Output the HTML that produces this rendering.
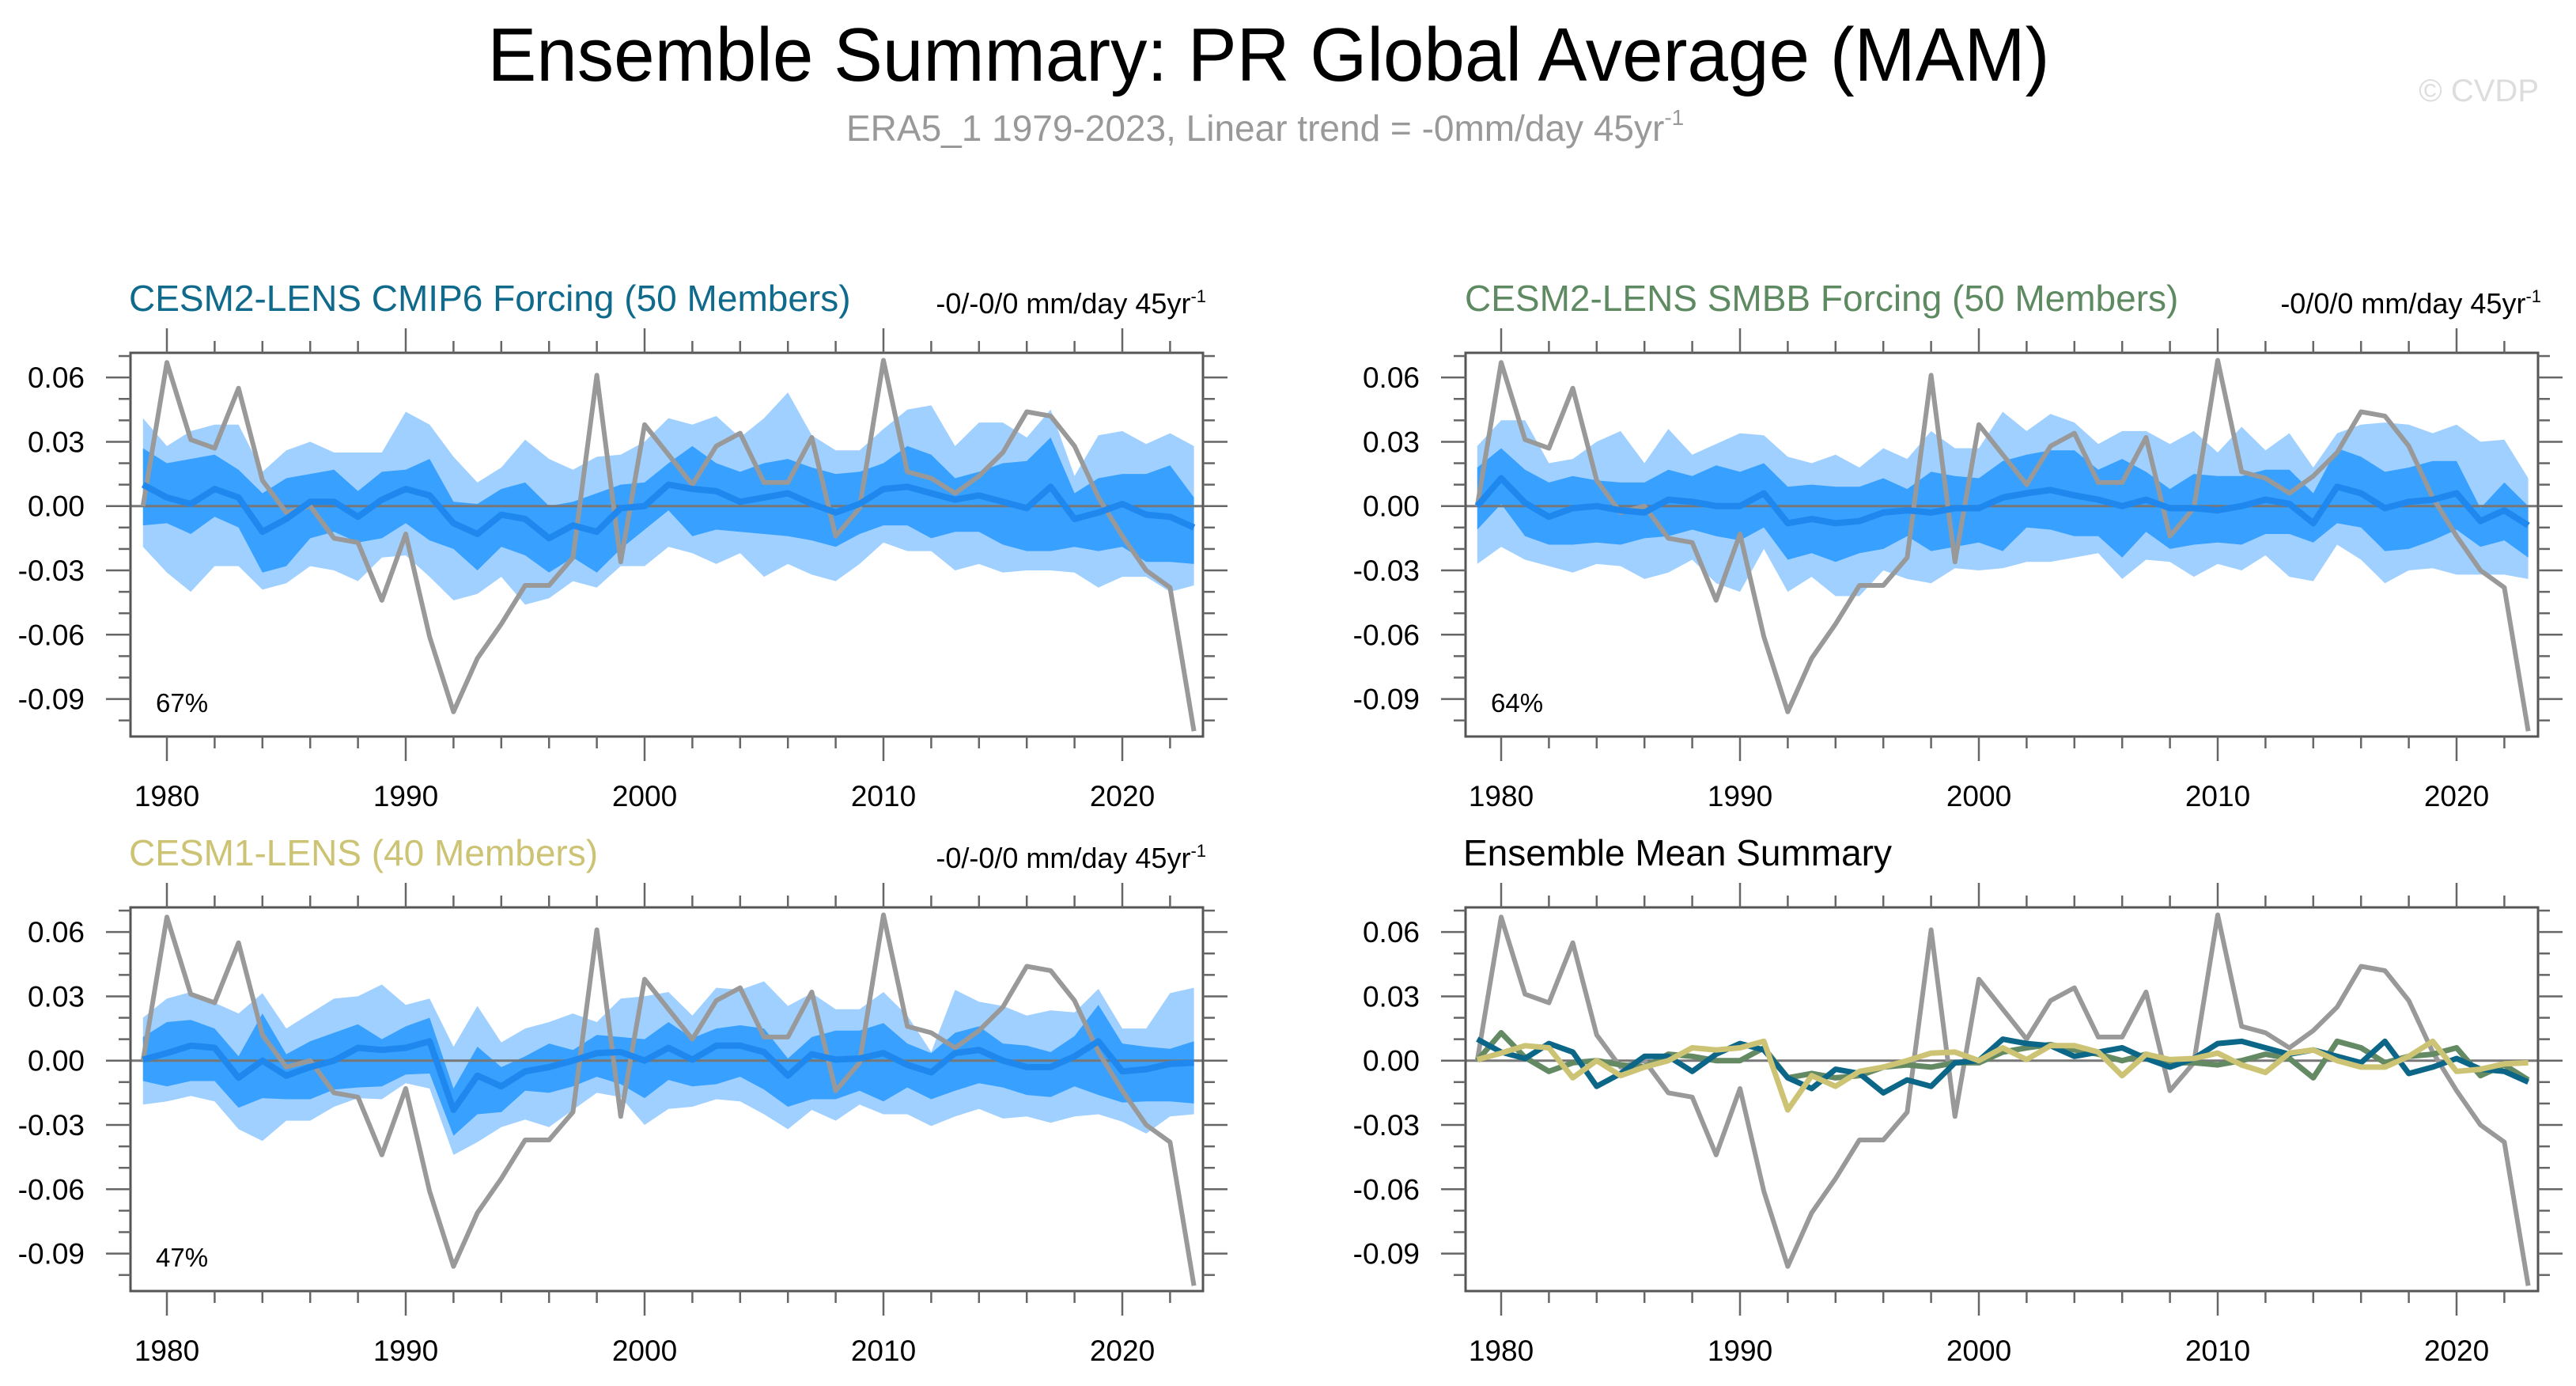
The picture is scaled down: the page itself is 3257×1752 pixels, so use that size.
<!DOCTYPE html>
<html><head><meta charset="utf-8">
<style>
html,body{margin:0;padding:0;background:#fff;}
svg{display:block;font-family:"Liberation Sans",Arial,sans-serif;}
</style></head>
<body>
<svg id="fig" width="3257" height="1752" viewBox="0 0 3257 1752" xmlns="http://www.w3.org/2000/svg">
<text x="1604" y="102" font-size="96" text-anchor="middle" textLength="1975" lengthAdjust="spacingAndGlyphs" fill="#000">Ensemble Summary: PR Global Average (MAM)</text>
<text x="1070" y="178" font-size="46" fill="#999">ERA5_1 1979-2023, Linear trend = -0mm/day 45yr<tspan dy="-20" font-size="28">-1</tspan></text>
<text x="3210" y="128" font-size="40" text-anchor="end" fill="#ddd">© CVDP</text>
</svg>
<script>
const years = [];
for (let y = 1979; y <= 2023; y++) years.push(y);
const era5 = [0,0.067,0.031,0.027,0.055,0.012,-0.003,0,-0.015,-0.017,-0.044,-0.013,-0.061,-0.096,-0.071,-0.055,-0.037,-0.037,-0.024,0.061,-0.026,0.038,0.024,0.010,0.028,0.034,0.011,0.011,0.032,-0.014,-0.001,0.068,0.016,0.013,0.006,0.014,0.025,0.044,0.042,0.028,0.004,-0.014,-0.030,-0.038,-0.105];
const cmip6Mean = [0.010,0.004,0.001,0.008,0.004,-0.012,-0.006,0.002,0.002,-0.005,0.003,0.008,0.005,-0.008,-0.013,-0.004,-0.006,-0.015,-0.009,-0.012,-0.001,0,0.010,0.008,0.007,0.002,0.004,0.006,0.001,-0.003,0.001,0.008,0.009,0.006,0.003,0.005,0.002,-0.001,0.009,-0.006,-0.003,0.001,-0.004,-0.005,-0.010];
const cmip6DarkHi = [0.027,0.020,0.022,0.024,0.017,0.006,0.013,0.015,0.017,0.007,0.016,0.017,0.022,0.002,0.001,0.008,0.011,0.0,0.002,0.006,0.010,0.011,0.020,0.028,0.020,0.016,0.020,0.022,0.018,0.015,0.016,0.020,0.028,0.024,0.013,0.016,0.020,0.021,0.032,0.006,0.013,0.015,0.015,0.019,0.004];
const cmip6DarkLo = [-0.009,-0.008,-0.013,-0.005,-0.010,-0.031,-0.028,-0.015,-0.012,-0.017,-0.015,-0.008,-0.016,-0.020,-0.030,-0.019,-0.023,-0.031,-0.024,-0.031,-0.020,-0.011,-0.002,-0.014,-0.011,-0.012,-0.013,-0.014,-0.016,-0.019,-0.013,-0.009,-0.009,-0.015,-0.012,-0.012,-0.018,-0.021,-0.021,-0.019,-0.021,-0.019,-0.026,-0.026,-0.027];
const cmip6LightHi = [0.041,0.028,0.035,0.038,0.038,0.016,0.026,0.030,0.025,0.025,0.025,0.044,0.038,0.023,0.011,0.018,0.031,0.022,0.017,0.023,0.024,0.030,0.041,0.038,0.042,0.032,0.041,0.053,0.033,0.026,0.026,0.036,0.045,0.047,0.028,0.039,0.039,0.032,0.045,0.014,0.033,0.035,0.029,0.034,0.028];
const cmip6LightLo = [-0.019,-0.031,-0.040,-0.028,-0.028,-0.039,-0.036,-0.028,-0.030,-0.035,-0.024,-0.023,-0.033,-0.044,-0.041,-0.033,-0.046,-0.043,-0.035,-0.038,-0.028,-0.028,-0.019,-0.022,-0.027,-0.022,-0.033,-0.027,-0.032,-0.035,-0.027,-0.017,-0.021,-0.021,-0.030,-0.027,-0.031,-0.030,-0.030,-0.031,-0.038,-0.033,-0.033,-0.040,-0.037];
const smbbMean = [0,0.013,0.0015,-0.005,-0.001,0,-0.002,-0.003,0.003,0.002,0,0,0.006,-0.008,-0.006,-0.008,-0.007,-0.003,-0.002,-0.003,-0.001,-0.001,0.004,0.006,0.0075,0.005,0.003,0,0.003,-0.001,-0.001,-0.002,0,0.003,0.001,-0.008,0.009,0.006,-0.001,0.002,0.003,0.006,-0.007,-0.002,-0.009];
const smbbDarkHi = [0.018,0.027,0.017,0.011,0.014,0.012,0.011,0.011,0.017,0.014,0.019,0.016,0.020,0.009,0.010,0.009,0.009,0.013,0.008,0.016,0.014,0.013,0.021,0.024,0.026,0.026,0.017,0.022,0.016,0.008,0.015,0.014,0.014,0.017,0.017,0.006,0.027,0.023,0.016,0.018,0.021,0.021,-0.001,0.011,0.0];
const smbbDarkLo = [-0.011,0.001,-0.014,-0.018,-0.018,-0.017,-0.018,-0.015,-0.014,-0.011,-0.014,-0.016,-0.010,-0.025,-0.022,-0.026,-0.022,-0.020,-0.014,-0.021,-0.019,-0.017,-0.021,-0.010,-0.011,-0.014,-0.014,-0.024,-0.012,-0.020,-0.018,-0.017,-0.018,-0.013,-0.013,-0.017,-0.008,-0.010,-0.021,-0.020,-0.016,-0.011,-0.019,-0.016,-0.024];
const smbbLightHi = [0.028,0.040,0.040,0.020,0.022,0.030,0.035,0.020,0.036,0.024,0.029,0.034,0.033,0.023,0.020,0.024,0.018,0.027,0.022,0.035,0.027,0.027,0.044,0.035,0.043,0.039,0.029,0.035,0.035,0.029,0.035,0.025,0.037,0.026,0.034,0.018,0.034,0.038,0.039,0.038,0.034,0.038,0.030,0.031,0.013];
const smbbLightLo = [-0.027,-0.019,-0.025,-0.028,-0.031,-0.027,-0.028,-0.034,-0.031,-0.025,-0.036,-0.040,-0.020,-0.040,-0.033,-0.042,-0.042,-0.030,-0.034,-0.036,-0.029,-0.030,-0.029,-0.026,-0.026,-0.024,-0.022,-0.034,-0.025,-0.026,-0.033,-0.027,-0.030,-0.023,-0.033,-0.035,-0.018,-0.025,-0.036,-0.030,-0.029,-0.032,-0.032,-0.032,-0.034];
const cesm1Mean = [0.0005,0.0035,0.007,0.006,-0.008,0,-0.007,-0.003,0,0.006,0.005,0.006,0.009,-0.023,-0.007,-0.012,-0.005,-0.003,0,0.0035,0.004,0,0.006,0.0005,0.007,0.007,0.004,-0.007,0.003,0.0005,0.001,0.0035,-0.002,-0.0055,0.0035,0.005,0,-0.003,-0.003,0.002,0.009,-0.005,-0.004,-0.0015,-0.001];
const cesm1DarkHi = [0.011,0.018,0.019,0.015,0.002,0.022,0.003,0.009,0.013,0.017,0.010,0.016,0.020,-0.013,0.0065,-0.003,0.002,0.008,0.005,0.012,0.011,0.010,0.018,0.0105,0.015,0.0165,0.015,0.001,0.011,0.014,0.014,0.0175,0.008,0.0035,0.013,0.016,0.008,0.007,0.004,0.0115,0.026,0.008,0.0065,0.0055,0.009];
const cesm1DarkLo = [-0.0095,-0.012,-0.0095,-0.0095,-0.022,-0.0175,-0.018,-0.018,-0.0135,-0.0125,-0.012,-0.0065,-0.006,-0.035,-0.025,-0.024,-0.014,-0.015,-0.012,-0.0075,-0.011,-0.0175,-0.009,-0.012,-0.011,-0.0075,-0.0135,-0.0215,-0.018,-0.018,-0.014,-0.019,-0.0125,-0.018,-0.014,-0.0105,-0.0125,-0.016,-0.017,-0.012,-0.016,-0.0195,-0.019,-0.019,-0.020];
const cesm1LightHi = [0.020,0.029,0.032,0.027,0.022,0.0315,0.015,0.022,0.029,0.030,0.0355,0.026,0.029,0.0065,0.0255,0.0085,0.015,0.018,0.022,0.018,0.029,0.030,0.032,0.021,0.034,0.033,0.037,0.0255,0.0315,0.024,0.024,0.032,0.021,0.004,0.033,0.0275,0.0255,0.021,0.0235,0.0225,0.0335,0.015,0.015,0.0315,0.034];
const cesm1LightLo = [-0.0205,-0.019,-0.0165,-0.019,-0.032,-0.0375,-0.028,-0.028,-0.0215,-0.0175,-0.018,-0.0105,-0.013,-0.044,-0.038,-0.031,-0.0275,-0.031,-0.023,-0.015,-0.017,-0.030,-0.0225,-0.0215,-0.018,-0.019,-0.025,-0.032,-0.023,-0.028,-0.0205,-0.025,-0.025,-0.0305,-0.026,-0.0225,-0.027,-0.026,-0.029,-0.026,-0.025,-0.0285,-0.034,-0.026,-0.025];
const yTicks = [0.06,0.03,0,-0.03,-0.06,-0.09];
const yTickLabels = ["0.06","0.03","0.00","-0.03","-0.06","-0.09"];
const xTicks = [1980,1990,2000,2010,2020];

const NS = "http://www.w3.org/2000/svg";
const svg = document.getElementById('fig');
function mk(tag, attrs, parent){
  const e = document.createElementNS(NS, tag);
  for (const k in attrs) e.setAttribute(k, attrs[k]);
  (parent||svg).appendChild(e);
  return e;
}
const YMAX = 0.0715, YMIN = -0.1075;

function panel(o){
  const g = mk('g', {});
  
  
  const L=o.x0, R=o.x1, T=o.y0, B=o.y1;
  const xs = y => o.xa + (y-1980)*o.xpy;
  const ys = v => T + (YMAX - v)/(YMAX-YMIN)*(B-T);
  const t = mk('text', {x:o.titleX, y:T-53, 'font-size':46, fill:o.titleColor}, g);
  t.textContent = o.title;
  
  
  if (o.trend){
    const tr = mk('text', {x:R+4, y:T-50, 'font-size':36, 'text-anchor':'end', fill:'#000'}, g);
    
    
    tr.textContent = o.trend;
    const sup = mk('tspan', {dy:-14, 'font-size':22}, tr);
    sup.textContent = '-1';
  }
  const clipId = 'clip'+o.name;
  const cp = mk('clipPath', {id:clipId}, g);
  mk('rect', {x:L, y:T, width:R-L, height:B-T}, cp);
  const pg = mk('g', {'clip-path':'url(#'+clipId+')'}, g);
  function band(hi, lo, color, nm){
    let d = '';
    years.forEach((yr,i)=>{ d += (i?'L':'M') + xs(yr).toFixed(1)+','+ys(hi[i]).toFixed(1); });
    for (let i=years.length-1;i>=0;i--) d += 'L'+xs(years[i]).toFixed(1)+','+ys(lo[i]).toFixed(1);
    const p = mk('path', {d:d+'Z', fill:color}, pg);
    
    
  }
  function line(vals, color, w, nm){
    let d='';
    years.forEach((yr,i)=>{ d += (i?'L':'M') + xs(yr).toFixed(1)+','+ys(vals[i]).toFixed(1); });
    const p = mk('path', {d:d, fill:'none', stroke:color, 'stroke-width':w, 'stroke-linejoin':'round'}, pg);
    
    
  }
  if (o.bands){
    band(o.bands.lh, o.bands.ll, '#9fd0ff', 'band-outer');
    band(o.bands.dh, o.bands.dl, '#38a0ff', 'band-inner');
  }
  const zl = mk('line', {x1:L, x2:R, y1:ys(0), y2:ys(0), stroke:'#777', 'stroke-width':3}, pg);
  
  
  if (o.bands){
    line(era5, '#999', 6, 'era5-line');
    line(o.bands.mean, '#1e88ee', 8, 'ensemble-mean-line');
  } else {
    line(era5, '#999', 6, 'era5-line');
    o.lines.forEach(l => line(l.v, l.c, 7, l.n));
  }
  const box = mk('rect', {x:L, y:T, width:R-L, height:B-T, fill:'none', stroke:'#555', 'stroke-width':3}, g);
  
  
  for (let yr=1980; yr<=2022; yr+=2){
    const major = yr%10===0; const len = major?31:15;
    const x = xs(yr);
    mk('line', {x1:x, x2:x, y1:B, y2:B+len, stroke:'#666', 'stroke-width':2.5}, g);
    mk('line', {x1:x, x2:x, y1:T, y2:T-len, stroke:'#666', 'stroke-width':2.5}, g);
  }
  xTicks.forEach(yr=>{
    const tl = mk('text', {x:xs(yr), y:B+88, 'font-size':37, 'text-anchor':'middle', fill:'#000'}, g);
    
    
    tl.textContent = yr;
  });
  for (let k=-10;k<=7;k++){
    const v = k/100; const major = (k%3===0); const len = major?31:15;
    const y = ys(v);
    if (y<T-1||y>B+1) continue;
    mk('line', {x1:L, x2:L-len, y1:y, y2:y, stroke:'#666', 'stroke-width':2.5}, g);
    mk('line', {x1:R, x2:R+len, y1:y, y2:y, stroke:'#666', 'stroke-width':2.5}, g);
  }
  yTicks.forEach((v,i)=>{
    const tl = mk('text', {x:L-58, y:ys(v)+13, 'font-size':37, 'text-anchor':'end', fill:'#000'}, g);
    
    
    tl.textContent = yTickLabels[i];
  });
  if (o.pct){
    const pt = mk('text', {x:L+32, y:B-31, 'font-size':33, fill:'#000'}, g);
    
    
    pt.textContent = o.pct;
  }
}

panel({name:'panel-cesm2-cmip6', x0:165, x1:1521, y0:446, y1:931, xa:211, xpy:30.2,
  title:'CESM2-LENS CMIP6 Forcing (50 Members)', titleX:163, titleColor:'#106a8c', trend:'-0/-0/0 mm/day 45yr', pct:'67%',
  bands:{mean:cmip6Mean, dh:cmip6DarkHi, dl:cmip6DarkLo, lh:cmip6LightHi, ll:cmip6LightLo}});
panel({name:'panel-cesm2-smbb', x0:1853, x1:3209, y0:446, y1:931, xa:1898, xpy:30.2,
  title:'CESM2-LENS SMBB Forcing (50 Members)', titleX:1852, titleColor:'#5e8a62', trend:'-0/0/0 mm/day 45yr', pct:'64%',
  bands:{mean:smbbMean, dh:smbbDarkHi, dl:smbbDarkLo, lh:smbbLightHi, ll:smbbLightLo}});
panel({name:'panel-cesm1', x0:165, x1:1521, y0:1147, y1:1632, xa:211, xpy:30.2,
  title:'CESM1-LENS (40 Members)', titleX:163, titleColor:'#cdc374', trend:'-0/-0/0 mm/day 45yr', pct:'47%',
  bands:{mean:cesm1Mean, dh:cesm1DarkHi, dl:cesm1DarkLo, lh:cesm1LightHi, ll:cesm1LightLo}});
panel({name:'panel-ensemble-mean-summary', x0:1853, x1:3209, y0:1147, y1:1632, xa:1898, xpy:30.2,
  title:'Ensemble Mean Summary', titleX:1850, titleColor:'#000',
  lines:[{v:smbbMean, c:'#648a64', n:'smbb-mean-line'},{v:cmip6Mean, c:'#0b6688', n:'cmip6-mean-line'},{v:cesm1Mean, c:'#cdc374', n:'cesm1-mean-line'}]});
</script>
</body></html>
